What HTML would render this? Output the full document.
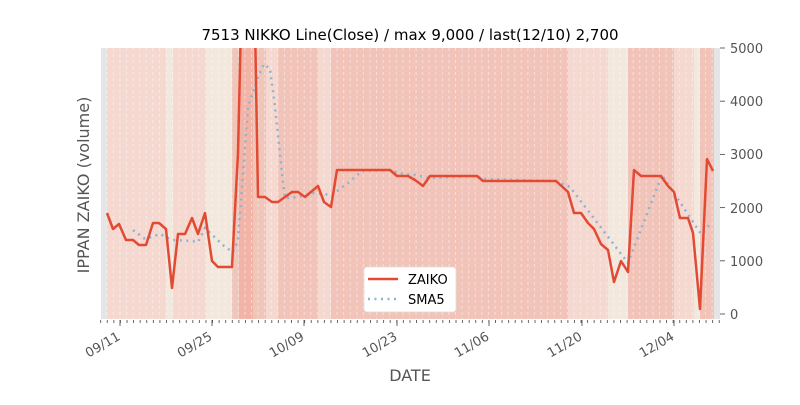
<!DOCTYPE html>
<html><head><meta charset="utf-8"><style>
body{margin:0;background:#fff;}
svg text{font-family:"DejaVu Sans","Liberation Sans",sans-serif;}
</style></head><body>
<svg width="800" height="400" viewBox="0 0 800 400" xmlns="http://www.w3.org/2000/svg">
<defs>
<pattern id="vd" patternUnits="userSpaceOnUse" x="106.3" y="48" width="6.58" height="6">
<line x1="0.5" y1="0" x2="0.5" y2="3" stroke="#fff" stroke-opacity="0.5" stroke-width="0.9"/>
</pattern>
<pattern id="mt" patternUnits="userSpaceOnUse" x="100.2" y="320" width="6.58" height="10">
<line x1="0.5" y1="0" x2="0.5" y2="3" stroke="#555" stroke-width="0.9"/>
</pattern>
</defs>
<rect width="800" height="400" fill="#fff"/>
<g>
<rect x="101" y="48" width="6" height="271" fill="#e5e5e5"/>
<rect x="107" y="48" width="59" height="271" fill="#f5d8d0"/>
<rect x="166" y="48" width="7" height="271" fill="#f3e8de"/>
<rect x="173" y="48" width="33" height="271" fill="#f5d8d0"/>
<rect x="206" y="48" width="26" height="271" fill="#f3e8de"/>
<rect x="232" y="48" width="7" height="271" fill="#f0c6ba"/>
<rect x="239" y="48" width="14" height="271" fill="#f3b4a8"/>
<rect x="253" y="48" width="13" height="271" fill="#f0c6ba"/>
<rect x="266" y="48" width="12" height="271" fill="#f5d8d0"/>
<rect x="278" y="48" width="40" height="271" fill="#f2c4b9"/>
<rect x="318" y="48" width="13" height="271" fill="#f5d8d0"/>
<rect x="331" y="48" width="237" height="271" fill="#f2c4b9"/>
<rect x="568" y="48" width="40" height="271" fill="#f5d8d0"/>
<rect x="608" y="48" width="20" height="271" fill="#f3e8de"/>
<rect x="628" y="48" width="46" height="271" fill="#f2c4b9"/>
<rect x="674" y="48" width="20" height="271" fill="#f5d8d0"/>
<rect x="694" y="48" width="6" height="271" fill="#f3e8de"/>
<rect x="700" y="48" width="14" height="271" fill="#f2c4b9"/>
<rect x="714" y="48" width="6" height="271" fill="#e5e5e5"/>
</g>
<rect x="106" y="48" width="609" height="271" fill="url(#vd)"/>
<polyline fill="none" stroke="#8fb3cf" stroke-width="2.5" stroke-dasharray="2,4.5" points="133,230 145,239 160,234 172,240 192,241 198,242 205,228 225,247 233,252 238,240 248,107 258,77 264,64 270,69 275,107 282,173 285,198 298,197 312,193 332,195 348,183 362,171 390,170 403,174 415,175 430,178 477,176 483,179 555,181 570,187 628,263 662,175 701,234 712,222"/>
<svg x="101" y="48" width="619" height="271" overflow="hidden">
<polyline transform="translate(-101,-48)" fill="none" stroke="#e24a33" stroke-width="2.5" stroke-linejoin="round" points="107,213 113,229 119,224 126,240 133,240 139,245 146,245 153,223 159,223 166,229 172,288 178,234 185,234 192,218 198,234 205,213 212,261 218,267 232,267 238,153 245,-150 252,-150 258,197 265,197 272,202 278,202 285,197 292,192 298,192 305,197 318,186 324,202 331,207 337,170 390,170 397,176 408,176 415,180 423,186 430,176 477,176 483,181 556,181 568,192 574,213 581,213 588,223 594,229 601,244 608,250 614,282 621,261 628,272 634,170 641,176 661,176 668,186 674,192 680,218 688,218 693,233 700,309 707,159 713,171"/>
</svg>
<rect x="100" y="320" width="621" height="4" fill="url(#mt)"/>
<g stroke="#555" stroke-width="0.9">
<line x1="120" y1="320" x2="120" y2="326"/>
<line x1="212" y1="320" x2="212" y2="326"/>
<line x1="304" y1="320" x2="304" y2="326"/>
<line x1="397" y1="320" x2="397" y2="326"/>
<line x1="489" y1="320" x2="489" y2="326"/>
<line x1="582" y1="320" x2="582" y2="326"/>
<line x1="674" y1="320" x2="674" y2="326"/>
<line x1="720" y1="48" x2="725" y2="48"/>
<line x1="720" y1="101.2" x2="725" y2="101.2"/>
<line x1="720" y1="154.4" x2="725" y2="154.4"/>
<line x1="720" y1="207.6" x2="725" y2="207.6"/>
<line x1="720" y1="260.8" x2="725" y2="260.8"/>
<line x1="720" y1="314" x2="725" y2="314"/>
</g>
<g font-size="13" fill="#555" text-anchor="start">
<text x="730" y="53">5000</text>
<text x="730" y="106">4000</text>
<text x="730" y="159">3000</text>
<text x="730" y="213">2000</text>
<text x="730" y="266">1000</text>
<text x="730" y="319">0</text>
</g>
<g font-size="13" fill="#555" text-anchor="end">
<text transform="translate(121,339) rotate(-30)">09/11</text>
<text transform="translate(213,339) rotate(-30)">09/25</text>
<text transform="translate(305,339) rotate(-30)">10/09</text>
<text transform="translate(398,339) rotate(-30)">10/23</text>
<text transform="translate(490,339) rotate(-30)">11/06</text>
<text transform="translate(583,339) rotate(-30)">11/20</text>
<text transform="translate(675,339) rotate(-30)">12/04</text>
</g>
<text x="410" y="40" font-size="15" text-anchor="middle" fill="#000">7513 NIKKO Line(Close) / max 9,000 / last(12/10) 2,700</text>
<text x="410" y="381" font-size="16" text-anchor="middle" fill="#555">DATE</text>
<text transform="translate(89,185) rotate(-90)" font-size="16" text-anchor="middle" fill="#555">IPPAN ZAIKO (volume)</text>
<rect x="364" y="267" width="92" height="45" rx="3" fill="#fff" stroke="#ddd" stroke-width="0.8"/>
<line x1="368" y1="279" x2="398" y2="279" stroke="#e24a33" stroke-width="2.5"/>
<line x1="368" y1="299" x2="398" y2="299" stroke="#8fb3cf" stroke-width="2.5" stroke-dasharray="2,4.5"/>
<text x="408" y="284" font-size="13" fill="#000">ZAIKO</text>
<text x="408" y="304" font-size="13" fill="#000">SMA5</text>
</svg>
</body></html>
